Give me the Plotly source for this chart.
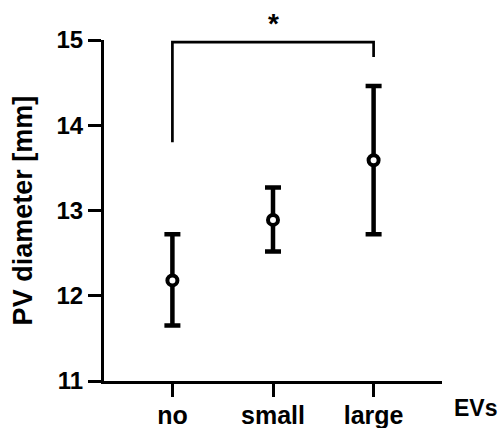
import plotly.graph_objects as go

categories = ["no", "small", "large"]
means = [12.18, 12.89, 13.59]
upper = [12.72, 13.27, 14.46]
lower = [11.65, 12.52, 12.72]

y_ticks = [11, 12, 13, 14, 15]
bracket_top = 14.975
bracket_left_bottom = 13.8
bracket_right_bottom = 14.8

err_plus = [u - m for u, m in zip(upper, means)]
err_minus = [m - l for m, l in zip(means, lower)]

FONT = "Liberation Sans, Arial, sans-serif"

fig = go.Figure()
fig.add_trace(go.Scatter(
    x=list(range(len(categories))), y=means, mode="markers",
    marker=dict(symbol="circle", size=10, color="white",
                line=dict(color="black", width=4)),
    error_y=dict(type="data", symmetric=False, array=err_plus,
                 arrayminus=err_minus, color="black", thickness=4.5, width=8),
    showlegend=False, cliponaxis=False,
))

# significance bracket between "no" and "large"
fig.add_trace(go.Scatter(
    x=[0, 0, 2, 2],
    y=[bracket_left_bottom, bracket_top, bracket_top, bracket_right_bottom],
    mode="lines", line=dict(color="black", width=2.7),
    showlegend=False, cliponaxis=False, hoverinfo="skip",
))

fig.add_annotation(x=0.5, y=1.0, xref="paper", yref="paper", text="<b>*</b>",
                   showarrow=False, xanchor="center", yanchor="bottom", yshift=-1,
                   font=dict(family=FONT, size=28, color="black"))
fig.add_annotation(x=1.03, y=-0.079, xref="paper", yref="paper", text="<b>EVs</b>",
                   xanchor="left", yanchor="middle", showarrow=False,
                   font=dict(family=FONT, size=23, color="black"))
fig.add_annotation(x=-0.24, y=0.5, xref="paper", yref="paper",
                   text="<b>PV diameter [mm]</b>", textangle=-90,
                   xanchor="center", yanchor="middle", showarrow=False,
                   font=dict(family=FONT, size=27, color="black"))

fig.update_layout(
    width=500, height=428,
    margin=dict(l=104, r=58, t=40, b=47, autoexpand=False),
    paper_bgcolor="white", plot_bgcolor="white",
    font=dict(family=FONT, color="black"),
)
fig.update_xaxes(
    range=[-0.68, 2.68], tickmode="array", tickvals=list(range(len(categories))),
    ticktext=[f"<b>{c}</b>" for c in categories], automargin=False,
    showline=True, linecolor="black", linewidth=3, ticks="outside",
    ticklen=13, tickwidth=3, tickcolor="black", showgrid=False, zeroline=False,
    ticklabelstandoff=-3,
    tickfont=dict(family=FONT, size=25, color="black"),
)
fig.update_yaxes(
    range=[11, 15], tickmode="array", tickvals=y_ticks,
    ticktext=[f"<b>{t}</b>" for t in y_ticks], automargin=False,
    showline=True, linecolor="black", linewidth=3, ticks="outside",
    ticklen=13, tickwidth=3, tickcolor="black", showgrid=False, zeroline=False,
    tickfont=dict(family=FONT, size=24, color="black"),
)

fig.write_html("out.html", config={"displayModeBar": False},
               post_script="document.body.style.margin='0';document.body.style.overflow='hidden';")
